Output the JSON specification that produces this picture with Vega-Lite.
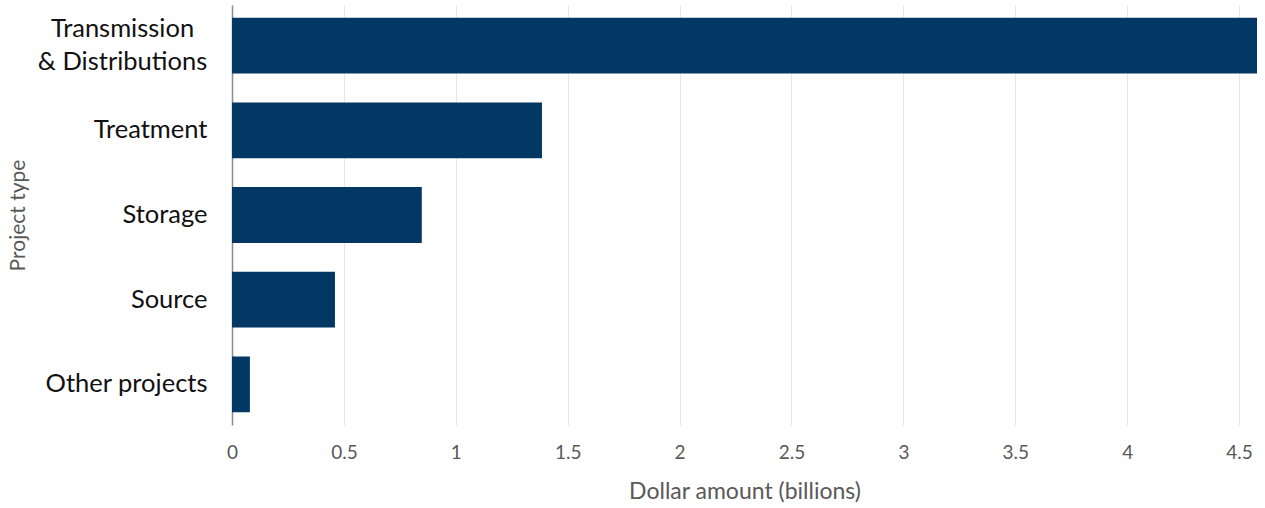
{
  "$schema": "https://vega.github.io/schema/vega-lite/v6.json",
  "autosize": "none",
  "width": 1025,
  "height": 420,
  "padding": {"left": 232, "top": 5, "right": 8, "bottom": 83},
  "background": "white",
  "data": {
    "values": [
      {"type": "Transmission & Distributions", "amount": 4.58},
      {"type": "Treatment", "amount": 1.385},
      {"type": "Storage", "amount": 0.848},
      {"type": "Source", "amount": 0.46},
      {"type": "Other projects", "amount": 0.08}
    ]
  },
  "mark": {"type": "bar", "color": "#033865", "clip": true},
  "encoding": {
    "y": {
      "field": "type",
      "type": "nominal",
      "sort": null,
      "scale": {"paddingInner": 0.34, "paddingOuter": 0.15},
      "axis": {
        "title": "Project type",
        "titleFont": "Lato",
        "titleFontSize": 21,
        "titleFontWeight": "normal",
        "titleColor": "#595959",
        "titleX": -214,
        "titleAngle": -90,
        "titleBaseline": "middle",
        "labelFont": "Lato",
        "labelFontSize": 25.5,
        "labelColor": "#111111",
        "labelPadding": {"condition": {"test": "datum.value == 'Transmission & Distributions'", "value": 110}, "value": 25},
        "labelAlign": {"condition": {"test": "datum.value == 'Transmission & Distributions'", "value": "center"}, "value": "right"},
        "labelLineHeight": 33,
        "labelOffset": {"condition": {"test": "datum.value == 'Transmission & Distributions'", "value": -17}, "value": 0},
        "labelExpr": "datum.value == 'Transmission & Distributions' ? ['Transmission', '& Distributions'] : datum.value",
        "labelLimit": 300,
        "ticks": false,
        "domainColor": "#8c8c8c",
        "domainWidth": 1.5,
        "grid": false
      }
    },
    "x": {
      "field": "amount",
      "type": "quantitative",
      "scale": {"domain": [0, 4.58], "nice": false},
      "axis": {
        "title": "Dollar amount (billions)",
        "titleFont": "Lato",
        "titleFontSize": 23,
        "titleFontWeight": "normal",
        "titleColor": "#595959",
        "titlePadding": 18,
        "values": [0, 0.5, 1, 1.5, 2, 2.5, 3, 3.5, 4, 4.5],
        "format": "~g",
        "labelFont": "Lato",
        "labelFontSize": 19,
        "labelColor": "#595959",
        "labelPadding": 18,
        "labelFlush": false,
        "ticks": false,
        "domain": false,
        "grid": true,
        "gridColor": "#e6e6e6",
        "gridWidth": 1
      }
    }
  },
  "config": {"view": {"stroke": null}}
}
